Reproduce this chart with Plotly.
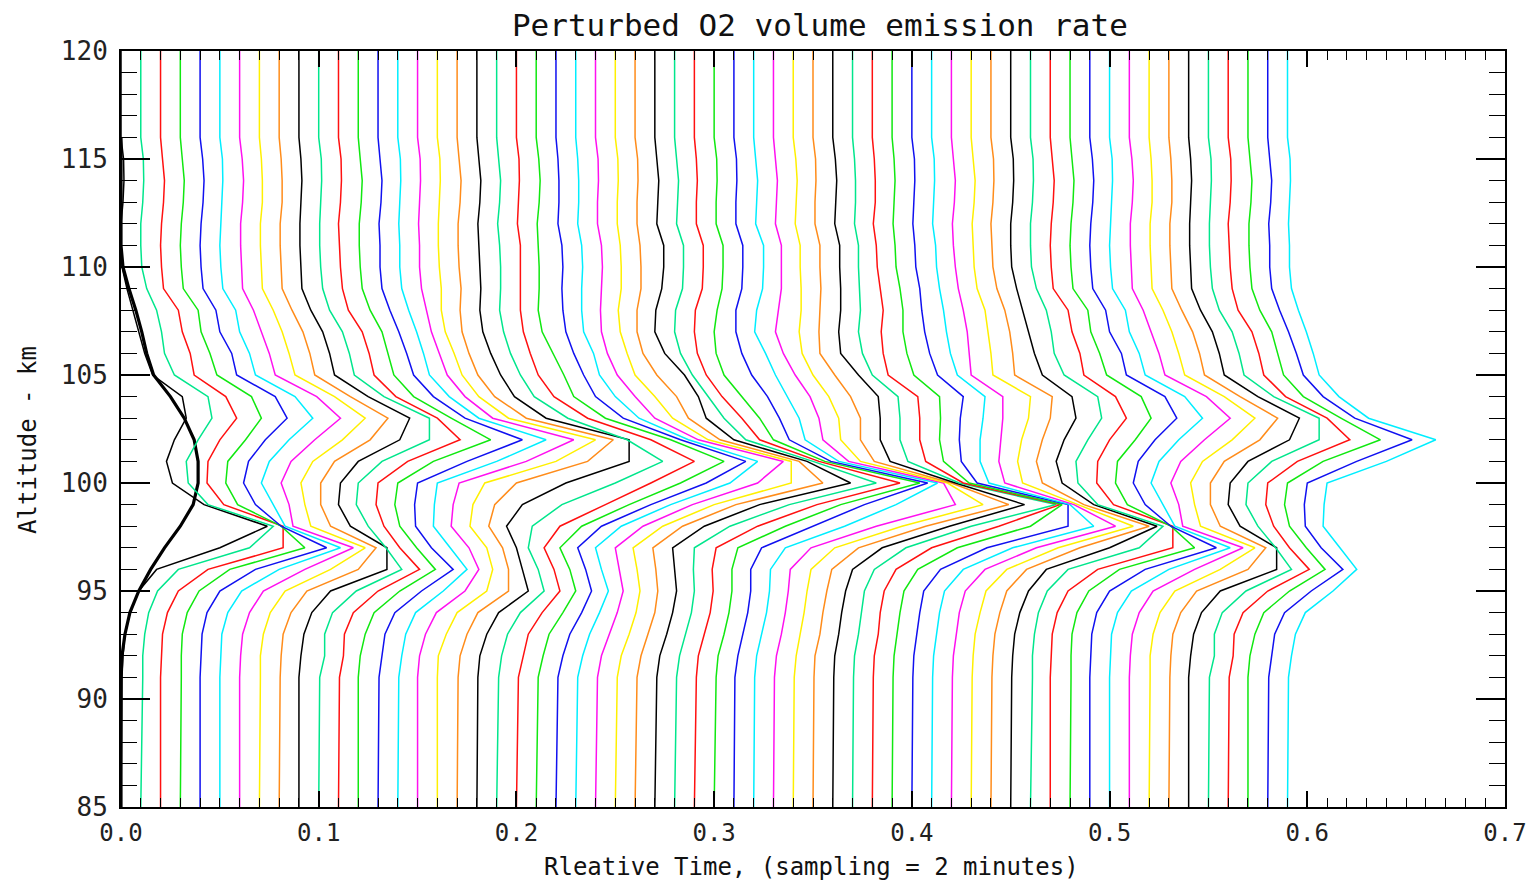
import plotly.graph_objects as go

# ---------------- data ----------------
# Relative time of each profile (sampling = 2 minutes), also its x offset
time_offsets = [0.00, 0.01, 0.02, 0.03, 0.04, 0.05, 0.06, 0.07, 0.08, 0.09,
                0.10, 0.11, 0.12, 0.13, 0.14, 0.15, 0.16, 0.17, 0.18, 0.19,
                0.20, 0.21, 0.22, 0.23, 0.24, 0.25, 0.26, 0.27, 0.28, 0.29,
                0.30, 0.31, 0.32, 0.33, 0.34, 0.35, 0.36, 0.37, 0.38, 0.39,
                0.40, 0.41, 0.42, 0.43, 0.44, 0.45, 0.46, 0.47, 0.48, 0.49,
                0.50, 0.51, 0.52, 0.53, 0.54, 0.55, 0.56, 0.57, 0.58, 0.59]

altitudes = [120, 116, 115, 114, 113, 112, 111, 110, 109, 108, 107, 106, 105, 104,
             103, 102, 101, 100, 99, 98, 97, 96, 95, 94, 93, 92, 91, 85]

VER_UNIT = 0.01  # emission values below are given in units of 0.01

# unperturbed profile (thick black curve); None = not drawn
ver_base = [None, 0.0, 0.0, 0.0, 0.0, 0.0, 0.0, 0.1, 0.4, 0.75, 1.05, 1.3, 1.65, 2.5,
            3.2, 3.7, 3.9, 3.9, 3.65, 3.0, 2.2, 1.5, 0.9, 0.45, 0.2, 0.05, 0.0, 0.0]

# perturbed emission at each altitude, one value per time step (60 steps)
ver_120km = [0.0, 0.0, 0.0, 0.0, 0.0, 0.0, 0.0, 0.0, 0.0, 0.0, 0.0, 0.0, 0.0, 0.0, 0.0,
             0.0, 0.0, 0.0, 0.0, 0.0, 0.0, 0.0, 0.0, 0.0, 0.0, 0.0, 0.0, 0.0, 0.0, 0.0,
             0.0, 0.0, 0.0, 0.0, 0.0, 0.0, 0.0, 0.0, 0.0, 0.0, 0.0, 0.0, 0.0, 0.0, 0.0,
             0.0, 0.0, 0.0, 0.0, 0.0, 0.0, 0.0, 0.0, 0.0, 0.0, 0.0, 0.0, 0.0, 0.0, 0.0]
ver_116km = [0.0, 0.0, 0.0, 0.0, 0.0, 0.0, 0.0, 0.0, 0.0, 0.0, 0.0, 0.0, 0.0, 0.0, 0.0,
             0.0, 0.0, 0.0, 0.0, 0.0, 0.0, 0.0, 0.0, 0.0, 0.0, 0.0, 0.0, 0.0, 0.0, 0.0,
             0.0, 0.0, 0.0, 0.0, 0.0, 0.0, 0.0, 0.0, 0.0, 0.0, 0.0, 0.0, 0.0, 0.0, 0.0,
             0.0, 0.0, 0.0, 0.0, 0.0, 0.0, 0.0, 0.0, 0.0, 0.0, 0.0, 0.0, 0.0, 0.0, 0.0]
ver_115km = [0.13, 0.13, 0.1, 0.1, 0.13, 0.13, 0.13, 0.1, 0.1, 0.1, 0.13, 0.13, 0.1, 0.1, 0.13,
             0.13, 0.13, 0.1, 0.1, 0.1, 0.13, 0.13, 0.1, 0.1, 0.13, 0.13, 0.13, 0.1, 0.1, 0.1,
             0.13, 0.13, 0.1, 0.1, 0.13, 0.13, 0.13, 0.1, 0.1, 0.1, 0.13, 0.13, 0.1, 0.1, 0.13,
             0.13, 0.13, 0.1, 0.1, 0.13, 0.13, 0.13, 0.1, 0.1, 0.1, 0.13, 0.13, 0.1, 0.1, 0.13]
ver_114km = [0.15, 0.15, 0.2, 0.2, 0.2, 0.15, 0.2, 0.15, 0.15, 0.15, 0.15, 0.15, 0.2, 0.2, 0.15,
             0.15, 0.15, 0.2, 0.2, 0.2, 0.15, 0.2, 0.15, 0.15, 0.15, 0.15, 0.15, 0.2, 0.2, 0.15,
             0.15, 0.15, 0.2, 0.2, 0.2, 0.15, 0.2, 0.15, 0.15, 0.15, 0.15, 0.15, 0.2, 0.2, 0.15,
             0.15, 0.15, 0.2, 0.2, 0.2, 0.15, 0.2, 0.15, 0.15, 0.15, 0.15, 0.15, 0.2, 0.2, 0.15]
ver_113km = [0.1, 0.1, 0.15, 0.15, 0.15, 0.1, 0.15, 0.15, 0.15, 0.1, 0.1, 0.1, 0.15, 0.15, 0.1,
             0.1, 0.1, 0.15, 0.15, 0.15, 0.1, 0.15, 0.15, 0.15, 0.1, 0.1, 0.1, 0.15, 0.15, 0.1,
             0.1, 0.1, 0.15, 0.15, 0.15, 0.1, 0.15, 0.15, 0.15, 0.1, 0.1, 0.1, 0.15, 0.15, 0.1,
             0.1, 0.1, 0.15, 0.15, 0.15, 0.1, 0.15, 0.15, 0.15, 0.1, 0.1, 0.1, 0.15, 0.15, 0.1]
ver_112km = [0.0, 0.0, 0.05, 0.05, 0.05, 0.05, 0.05, 0.05, 0.05, 0.05, 0.05, 0.0, 0.05, 0.05, 0.05,
             0.05, 0.05, 0.05, 0.05, 0.05, 0.05, 0.05, 0.1, 0.1, 0.1, 0.1, 0.1, 0.1, 0.1, 0.1,
             0.1, 0.1, 0.1, 0.1, 0.1, 0.1, 0.1, 0.1, 0.05, 0.05, 0.05, 0.05, 0.05, 0.05, 0.0,
             0.0, 0.0, 0.05, 0.05, 0.05, 0.05, 0.05, 0.05, 0.05, 0.05, 0.05, 0.0, 0.05, 0.05, 0.05]
ver_111km = [0.0, 0.0, 0.0, 0.0, 0.0, 0.0, 0.05, 0.05, 0.05, 0.05, 0.05, 0.05, 0.05, 0.1, 0.1,
             0.1, 0.05, 0.05, 0.1, 0.15, 0.2, 0.1, 0.3, 0.3, 0.3, 0.25, 0.25, 0.45, 0.45, 0.45,
             0.45, 0.45, 0.5, 0.4, 0.35, 0.35, 0.35, 0.3, 0.2, 0.15, 0.15, 0.2, 0.1, 0.1, 0.05,
             0.0, 0.0, 0.0, 0.0, 0.0, 0.0, 0.05, 0.05, 0.05, 0.05, 0.05, 0.05, 0.05, 0.1, 0.1]
ver_110km = [0.05, 0.05, 0.05, 0.05, 0.05, 0.05, 0.1, 0.1, 0.1, 0.1, 0.1, 0.1, 0.1, 0.1, 0.1,
             0.1, 0.1, 0.1, 0.15, 0.2, 0.2, 0.15, 0.35, 0.35, 0.35, 0.3, 0.3, 0.45, 0.45, 0.45,
             0.45, 0.45, 0.5, 0.4, 0.35, 0.35, 0.35, 0.3, 0.25, 0.2, 0.2, 0.25, 0.2, 0.15, 0.1,
             0.05, 0.05, 0.05, 0.05, 0.05, 0.05, 0.1, 0.1, 0.1, 0.1, 0.1, 0.1, 0.1, 0.1, 0.1]
ver_109km = [0.3, 0.3, 0.15, 0.15, 0.15, 0.15, 0.15, 0.15, 0.15, 0.15, 0.2, 0.2, 0.2, 0.2, 0.2,
             0.2, 0.2, 0.2, 0.2, 0.2, 0.2, 0.15, 0.3, 0.3, 0.3, 0.3, 0.3, 0.35, 0.4, 0.4,
             0.4, 0.4, 0.45, 0.4, 0.4, 0.4, 0.4, 0.35, 0.4, 0.4, 0.4, 0.4, 0.35, 0.3, 0.3,
             0.3, 0.3, 0.15, 0.15, 0.15, 0.15, 0.15, 0.15, 0.15, 0.15, 0.2, 0.2, 0.2, 0.2, 0.2]
ver_108km = [0.6, 0.8, 0.9, 0.9, 0.8, 0.8, 0.7, 0.7, 0.65, 0.6, 0.55, 0.5, 0.6, 0.6, 0.55,
             0.45, 0.2, 0.15, 0.15, 0.15, 0.2, 0.1, 0.35, 0.3, 0.25, 0.15, 0.1, 0.05, 0.05, 0.05,
             0.15, 0.1, 0.15, 0.25, 0.4, 0.35, 0.4, 0.4, 0.55, 0.55, 0.5, 0.6, 0.6, 0.7, 0.7,
             0.6, 0.8, 0.9, 0.9, 0.8, 0.8, 0.7, 0.7, 0.65, 0.6, 0.55, 0.5, 0.6, 0.6, 0.55]
ver_107km = [0.9, 1.05, 1.1, 1.05, 1.0, 1.0, 1.1, 1.15, 1.2, 1.2, 1.2, 1.2, 1.2, 1.05, 0.95,
             0.7, 0.4, 0.25, 0.3, 0.35, 0.35, 0.3, 0.5, 0.4, 0.3, 0.25, 0.1, 0.0, 0.0, 0.0,
             0.0, 0.1, 0.05, 0.1, 0.3, 0.3, 0.3, 0.3, 0.45, 0.55, 0.65, 0.75, 0.8, 0.85, 0.95,
             0.9, 1.05, 1.1, 1.05, 1.0, 1.0, 1.1, 1.15, 1.2, 1.2, 1.2, 1.2, 1.2, 1.05, 0.95]
ver_106km = [1.2, 1.2, 1.5, 1.5, 1.6, 1.5, 1.5, 1.5, 1.55, 1.55, 1.55, 1.55, 1.5, 1.45, 1.3,
             1.1, 0.85, 0.6, 0.7, 0.7, 0.7, 0.85, 0.9, 0.9, 0.6, 0.6, 0.4, 0.5, 0.3, 0.15,
             0.1, 0.4, 0.6, 0.5, 0.45, 0.35, 0.4, 0.5, 0.55, 0.75, 0.9, 0.95, 0.9, 1.0, 1.1,
             1.2, 1.2, 1.5, 1.5, 1.6, 1.5, 1.5, 1.5, 1.55, 1.55, 1.55, 1.55, 1.5, 1.45, 1.3]
ver_105km = [1.6, 1.7, 1.7, 1.85, 1.85, 1.8, 1.8, 1.8, 1.8, 1.8, 1.8, 1.8, 1.8, 1.8, 1.6,
             1.5, 1.25, 1.05, 1.2, 1.2, 1.1, 1.4, 1.4, 1.2, 1.1, 1.0, 1.1, 1.5, 0.9, 0.6,
             0.5, 0.9, 1.1, 1.1, 1.0, 1.1, 1.3, 1.0, 0.8, 1.1, 1.3, 1.3, 1.0, 1.1, 1.2,
             1.6, 1.7, 1.7, 1.85, 1.85, 1.8, 1.8, 1.8, 1.8, 1.8, 1.8, 1.8, 1.8, 1.8, 1.6]
ver_104km = [3.1, 3.4, 3.3, 3.6, 3.8, 3.8, 3.9, 3.8, 3.6, 3.5, 3.3, 2.9, 2.8, 2.8, 2.6,
             2.4, 2.1, 1.9, 1.9, 1.9, 1.9, 1.9, 2.0, 2.0, 2.0, 2.0, 2.1, 2.2, 1.7, 1.4,
             1.4, 1.7, 1.7, 1.85, 1.8, 1.9, 2.3, 2.3, 2.3, 2.4, 2.6, 2.7, 2.6, 3.0, 3.1,
             3.1, 3.4, 3.3, 3.6, 3.8, 3.8, 3.9, 3.8, 3.6, 3.5, 3.3, 2.9, 2.8, 2.8, 2.6]
ver_103km = [3.3, 3.6, 3.85, 4.1, 4.4, 4.7, 5.1, 5.35, 5.5, 5.6, 5.6, 5.0, 4.7, 4.4, 4.1,
             3.8, 3.6, 3.5, 3.5, 3.6, 3.6, 3.5, 3.4, 3.2, 3.0, 2.9, 2.7, 2.6, 2.5, 2.4,
             2.3, 2.3, 2.3, 2.3, 2.3, 2.4, 2.4, 2.4, 2.4, 2.45, 2.45, 2.6, 2.6, 2.9, 3.0,
             3.3, 3.6, 3.85, 4.1, 4.4, 4.7, 5.1, 5.35, 5.5, 5.6, 5.6, 5.0, 4.7, 4.4, 4.1]
ver_102km = [2.7, 2.9, 3.0, 3.3, 3.3, 3.5, 3.8, 4.2, 4.6, 5.1, 5.6, 6.15, 6.7, 7.3, 7.5,
             7.9, 8.0, 7.9, 7.7, 6.6, 6.8, 6.8, 6.3, 5.7, 5.2, 4.7, 4.3, 4.0, 3.6, 3.3,
             3.0, 2.8, 2.6, 2.5, 2.4, 2.4, 2.4, 2.4, 2.4, 2.4, 2.4, 2.45, 2.5, 2.55, 2.6,
             2.7, 2.9, 3.0, 3.3, 3.3, 3.5, 3.8, 4.2, 4.6, 5.1, 5.6, 6.15, 6.7, 7.3, 7.5]
ver_101km = [2.3, 2.3, 2.4, 2.4, 2.45, 2.5, 2.6, 2.7, 2.8, 3.0, 3.2, 3.5, 3.8, 4.5, 5.0,
             5.5, 6.0, 6.6, 7.7, 8.4, 9.0, 9.5, 9.6, 9.2, 9.5, 8.9, 8.3, 7.7, 7.0, 6.3,
             5.6, 4.9, 4.3, 3.8, 3.4, 3.1, 2.9, 2.8, 2.7, 2.6, 2.5, 2.45, 2.4, 2.35, 2.3,
             2.3, 2.3, 2.4, 2.4, 2.45, 2.5, 2.6, 2.7, 2.8, 3.0, 3.2, 3.5, 3.8, 4.5, 5.0]
ver_100km = [2.6, 2.4, 2.35, 2.3, 2.2, 2.1, 2.1, 2.1, 2.1, 2.1, 2.0, 2.0, 2.0, 2.0, 2.0,
             2.1, 2.4, 3.0, 4.5, 6.0, 6.8, 7.3, 7.6, 7.8, 8.2, 8.9, 9.5, 9.9, 10.2, 10.4,
             10.4, 9.8, 9.3, 8.6, 7.8, 7.0, 6.2, 5.4, 4.6, 3.9, 3.3, 2.9, 2.7, 2.6, 2.6,
             2.6, 2.4, 2.35, 2.3, 2.2, 2.1, 2.1, 2.1, 2.1, 2.1, 2.0, 2.0, 2.0, 2.0, 2.0]
ver_99km = [4.2, 3.4, 3.2, 2.9, 2.8, 2.7, 2.5, 2.3, 2.1, 2.0, 1.9, 1.9, 1.85, 1.85, 1.85,
            1.8, 1.8, 1.9, 2.3, 3.3, 4.5, 4.7, 4.8, 4.8, 4.9, 5.0, 5.1, 5.3, 5.8, 6.2,
            6.4, 6.6, 7.2, 9.2, 9.6, 9.9, 9.7, 10.3, 9.5, 8.6, 7.9, 7.0, 6.2, 5.4, 4.7,
            4.2, 3.4, 3.2, 2.9, 2.8, 2.7, 2.5, 2.3, 2.1, 2.0, 1.9, 1.9, 1.85, 1.85, 1.85]
ver_98km = [7.4, 6.7, 6.2, 5.1, 4.1, 3.3, 2.7, 2.6, 2.6, 2.6, 2.5, 2.3, 2.1, 1.9, 1.8,
            1.7, 1.65, 1.6, 1.5, 1.8, 2.2, 2.3, 2.3, 2.3, 2.4, 2.4, 2.4, 2.5, 2.8, 3.2,
            3.6, 4.0, 4.6, 5.2, 5.5, 5.7, 5.9, 6.0, 6.4, 7.0, 7.9, 8.2, 8.3, 8.2, 8.0,
            7.4, 6.7, 6.2, 5.1, 4.1, 3.3, 2.7, 2.6, 2.6, 2.6, 2.5, 2.3, 2.1, 1.9, 1.8]
ver_97km = [5.0, 5.5, 6.2, 6.3, 6.4, 6.1, 5.75, 5.35, 4.9, 4.45, 3.4, 3.1, 2.95, 2.7, 2.65,
            2.6, 2.5, 2.3, 2.0, 1.6, 1.4, 1.2, 1.1, 1.0, 1.0, 0.9, 0.9, 0.9, 1.0, 1.1,
            1.2, 1.4, 1.6, 1.9, 2.1, 2.3, 2.5, 2.7, 3.0, 3.3, 3.8, 4.1, 4.3, 4.4, 4.5,
            5.0, 5.5, 6.2, 6.3, 6.4, 6.1, 5.75, 5.35, 4.9, 4.45, 3.4, 3.1, 2.95, 2.7, 2.65]
ver_96km = [1.8, 1.9, 2.4, 2.5, 2.8, 3.0, 3.3, 3.6, 4.0, 4.45, 4.2, 4.1, 3.9, 3.8, 3.5,
            3.1, 2.8, 2.6, 2.3, 2.1, 1.9, 1.7, 1.5, 1.3, 1.2, 1.1, 1.05, 1.0, 0.95, 0.9,
            0.9, 0.85, 0.85, 0.85, 0.9, 0.95, 1.0, 1.1, 1.2, 1.3, 1.45, 1.6, 1.7, 1.8, 1.8,
            1.8, 1.9, 2.4, 2.5, 2.8, 3.0, 3.3, 3.6, 4.0, 4.45, 4.2, 4.1, 3.9, 3.8, 3.5]
ver_95km = [0.9, 0.85, 0.9, 0.95, 1.0, 1.1, 1.2, 1.3, 1.4, 1.6, 1.9, 2.0, 2.1, 2.2, 2.3,
            2.4, 2.5, 2.6, 2.6, 2.4, 2.2, 2.0, 1.8, 1.65, 1.4, 1.25, 1.15, 1.1, 1.0, 0.95,
            0.9, 0.85, 0.8, 0.75, 0.7, 0.7, 0.65, 0.6, 0.6, 0.6, 0.6, 0.65, 0.7, 0.75, 0.8,
            0.9, 0.85, 0.9, 0.95, 1.0, 1.1, 1.2, 1.3, 1.4, 1.6, 1.9, 2.0, 2.1, 2.2, 2.3]
ver_94km = [0.46, 0.4, 0.35, 0.35, 0.35, 0.4, 0.5, 0.55, 0.6, 0.65, 0.7, 0.75, 0.8, 0.85, 0.9,
            0.95, 1.0, 1.05, 1.1, 1.2, 1.3, 1.35, 1.3, 1.2, 1.1, 1.05, 1.0, 0.9, 0.85, 0.8,
            0.75, 0.7, 0.65, 0.6, 0.55, 0.5, 0.45, 0.45, 0.4, 0.4, 0.4, 0.4, 0.4, 0.45, 0.45,
            0.46, 0.4, 0.35, 0.35, 0.35, 0.4, 0.5, 0.55, 0.6, 0.65, 0.7, 0.75, 0.8, 0.85, 0.9]
ver_93km = [0.2, 0.2, 0.1, 0.1, 0.1, 0.1, 0.15, 0.2, 0.2, 0.25, 0.3, 0.3, 0.35, 0.35, 0.4,
            0.4, 0.45, 0.5, 0.5, 0.55, 0.6, 0.65, 0.7, 0.7, 0.7, 0.7, 0.65, 0.6, 0.55, 0.5,
            0.5, 0.45, 0.4, 0.4, 0.35, 0.35, 0.3, 0.3, 0.3, 0.25, 0.25, 0.25, 0.25, 0.2, 0.2,
            0.2, 0.2, 0.1, 0.1, 0.1, 0.1, 0.15, 0.2, 0.2, 0.25, 0.3, 0.3, 0.35, 0.35, 0.4]
ver_92km = [0.1, 0.1, 0.05, 0.05, 0.05, 0.05, 0.05, 0.05, 0.1, 0.1, 0.3, 0.25, 0.1, 0.2, 0.2,
            0.1, 0.05, 0.15, 0.15, 0.25, 0.35, 0.35, 0.35, 0.35, 0.3, 0.3, 0.3, 0.25, 0.25, 0.2,
            0.2, 0.2, 0.15, 0.15, 0.15, 0.1, 0.1, 0.1, 0.1, 0.1, 0.1, 0.1, 0.1, 0.1, 0.1,
            0.1, 0.1, 0.05, 0.05, 0.05, 0.05, 0.05, 0.05, 0.1, 0.1, 0.3, 0.25, 0.1, 0.2, 0.2]
ver_91km = [0.05, 0.1, 0.0, 0.05, 0.0, 0.0, 0.0, 0.05, 0.05, 0.0, 0.05, 0.05, 0.0, 0.05, 0.05,
            0.0, 0.0, 0.05, 0.05, 0.1, 0.1, 0.1, 0.1, 0.1, 0.1, 0.1, 0.1, 0.1, 0.1, 0.1,
            0.1, 0.05, 0.05, 0.05, 0.05, 0.05, 0.05, 0.05, 0.05, 0.05, 0.05, 0.05, 0.05, 0.05, 0.05,
            0.05, 0.1, 0.0, 0.05, 0.0, 0.0, 0.0, 0.05, 0.05, 0.0, 0.05, 0.05, 0.0, 0.05, 0.05]
ver_85km = [0.0, 0.0, 0.0, 0.0, 0.0, 0.0, 0.0, 0.0, 0.0, 0.0, 0.0, 0.0, 0.0, 0.0, 0.0,
            0.0, 0.0, 0.0, 0.0, 0.0, 0.0, 0.0, 0.0, 0.0, 0.0, 0.0, 0.0, 0.0, 0.0, 0.0,
            0.0, 0.0, 0.0, 0.0, 0.0, 0.0, 0.0, 0.0, 0.0, 0.0, 0.0, 0.0, 0.0, 0.0, 0.0,
            0.0, 0.0, 0.0, 0.0, 0.0, 0.0, 0.0, 0.0, 0.0, 0.0, 0.0, 0.0, 0.0, 0.0, 0.0]

x_tick_values = [0.0, 0.1, 0.2, 0.3, 0.4, 0.5, 0.6, 0.7]
x_tick_labels = ["0.0", "0.1", "0.2", "0.3", "0.4", "0.5", "0.6", "0.7"]
y_tick_values = [85, 90, 95, 100, 105, 110, 115, 120]
y_tick_labels = ["85", "90", "95", "100", "105", "110", "115", "120"]

# ---------------- table built from the rows above ----------------
ver_table = [ver_120km, ver_116km, ver_115km, ver_114km, ver_113km, ver_112km, ver_111km,
             ver_110km, ver_109km, ver_108km, ver_107km, ver_106km, ver_105km, ver_104km,
             ver_103km, ver_102km, ver_101km, ver_100km, ver_99km, ver_98km, ver_97km,
             ver_96km, ver_95km, ver_94km, ver_93km, ver_92km, ver_91km, ver_85km]

palette = ["#000000", "#00E68C", "#FF1010", "#10E810", "#1010F0",
           "#00EEFF", "#FF10F0", "#FFF000", "#FF8C1A"]

FONT = "DejaVu Sans Mono"

fig = go.Figure()

base_x = [None if v is None else VER_UNIT * v for v in ver_base]
fig.add_trace(go.Scatter(x=base_x, y=altitudes, mode="lines",
                         line=dict(color="#000000", width=3.2),
                         hoverinfo="skip", showlegend=False))

for j, t in enumerate(time_offsets):
    xs = [t + VER_UNIT * row[j] for row in ver_table]
    fig.add_trace(go.Scatter(x=xs, y=altitudes, mode="lines",
                             line=dict(color=palette[j % len(palette)], width=1.5),
                             hoverinfo="skip", showlegend=False))

axis_common = dict(showline=True, linecolor="#000000", linewidth=2, mirror="allticks",
                   ticks="inside", tickcolor="#000000", tickwidth=1.6,
                   showgrid=False, zeroline=False, automargin=False)

fig.update_layout(
    width=1530, height=885,
    margin=dict(l=121, r=25, t=51, b=78),
    paper_bgcolor="#FFFFFF", plot_bgcolor="#FFFFFF",
    title=dict(text="Perturbed O2 volume emission rate",
               font=dict(family=FONT, size=31, color="#111111"),
               xref="paper", x=0.505, xanchor="center",
               yref="container", y=1 - 25 / 885, yanchor="middle"),
    xaxis=dict(range=[0, 0.7], tickvals=x_tick_values, ticktext=x_tick_labels,
               ticklen=16, ticklabelstandoff=3,
               tickfont=dict(family=FONT, size=24, color="#222222"),
               minor=dict(dtick=0.01, ticklen=9, tickwidth=1.2, tickcolor="#000000",
                          ticks="inside", showgrid=False),
               **axis_common),
    yaxis=dict(range=[85, 120], tickvals=y_tick_values, ticktext=y_tick_labels,
               ticklen=29, ticklabelstandoff=6,
               tickfont=dict(family=FONT, size=26, color="#222222"),
               minor=dict(dtick=1, ticklen=16, tickwidth=1.2, tickcolor="#000000",
                          ticks="inside", showgrid=False),
               **axis_common),
    annotations=[
        dict(text="Rleative Time, (sampling = 2 minutes)", xref="paper", yref="paper",
             x=0.4986, y=(807 - 867) / 756, xanchor="center", yanchor="middle",
             showarrow=False, font=dict(family=FONT, size=24, color="#111111")),
        dict(text="Altitude - km", xref="paper", yref="paper", textangle=-90,
             x=(28 - 121) / 1384, y=0.4855, xanchor="center", yanchor="middle",
             showarrow=False, font=dict(family=FONT, size=24, color="#111111")),
    ],
)

fig.write_html("out.html")
